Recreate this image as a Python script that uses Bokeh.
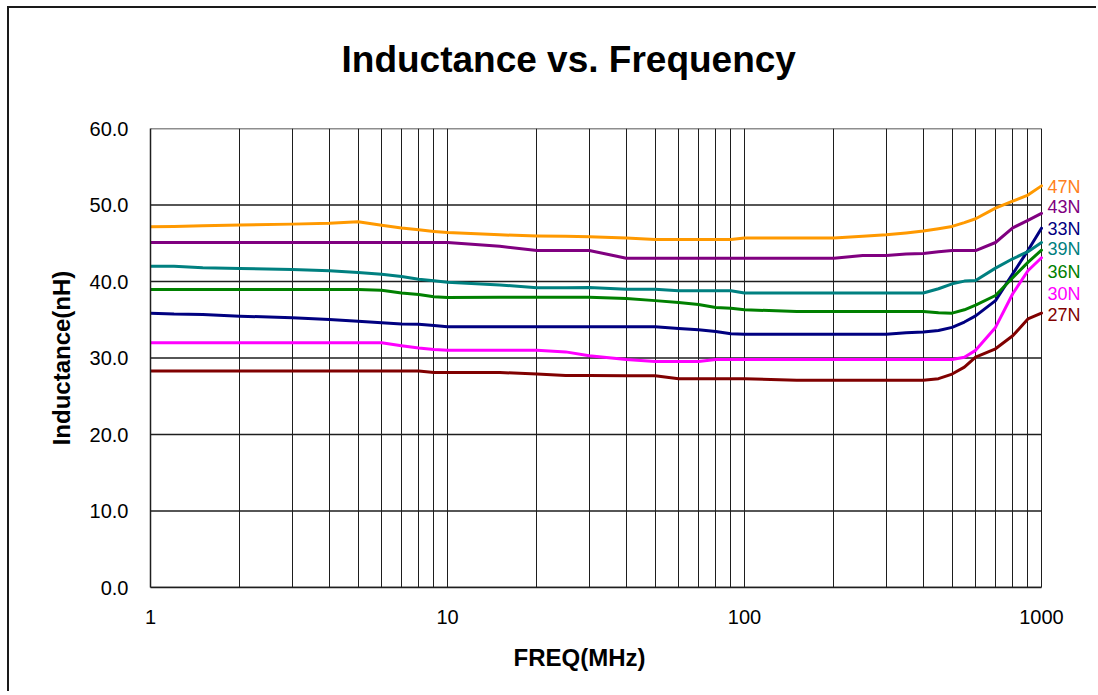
from bokeh.plotting import figure
from bokeh.models import Range1d, FixedTicker, PrintfTickFormatter, Title
from bokeh.core.properties import value
from bokeh.embed import file_html
from bokeh.resources import INLINE

freq = [1, 1.2, 1.5, 2, 3, 4, 5, 6, 7, 8, 9, 10, 15, 20, 25, 30, 40, 50, 60, 70, 80, 90,
        100, 150, 200, 250, 300, 350, 400, 450, 500, 550, 600, 700, 800, 900, 1000]

l_47n = [47.15, 47.2, 47.3, 47.4, 47.5, 47.6, 47.8, 47.36, 47.0, 46.75, 46.55, 46.4, 46.1, 45.95,
         45.9, 45.85, 45.7, 45.5, 45.5, 45.5, 45.5, 45.5, 45.7, 45.7, 45.7, 45.9, 46.1, 46.35,
         46.6, 46.9, 47.2, 47.7, 48.2, 49.6, 50.5, 51.3, 52.5]
l_43n = [45.1, 45.1, 45.1, 45.1, 45.1, 45.1, 45.1, 45.1, 45.1, 45.1, 45.1, 45.1, 44.6, 44.05,
         44.05, 44.05, 43.05, 43.05, 43.05, 43.05, 43.05, 43.05, 43.05, 43.05, 43.05, 43.4, 43.4,
         43.6, 43.65, 43.9, 44.05, 44.05, 44.05, 45.1, 47.0, 48.0, 48.9]
l_39n = [42.0, 42.0, 41.8, 41.7, 41.57, 41.4, 41.18, 40.96, 40.65, 40.3, 40.1, 39.9, 39.55, 39.17,
         39.17, 39.2, 39.0, 39.0, 38.8, 38.8, 38.8, 38.8, 38.5, 38.5, 38.5, 38.5, 38.5, 38.5,
         38.5, 39.05, 39.7, 40.05, 40.13, 41.75, 42.97, 43.9, 45.1]
l_36n = [38.95, 38.95, 38.95, 38.95, 38.95, 38.95, 38.95, 38.85, 38.5, 38.3, 38.0, 37.9, 37.95,
         37.95, 37.95, 37.95, 37.78, 37.5, 37.25, 37.0, 36.6, 36.5, 36.3, 36.08, 36.08, 36.08,
         36.08, 36.08, 36.08, 35.9, 35.86, 36.3, 36.9, 38.17, 40.5, 42.5, 44.1]
l_33n = [35.86, 35.75, 35.7, 35.47, 35.25, 35.03, 34.8, 34.6, 34.45, 34.4, 34.25, 34.1, 34.1,
         34.1, 34.1, 34.1, 34.1, 34.1, 33.86, 33.7, 33.46, 33.16, 33.1, 33.1, 33.1, 33.1, 33.1,
         33.3, 33.4, 33.6, 34.0, 34.7, 35.5, 37.5, 41.0, 44.05, 46.97]
l_30n = [32.0, 32.0, 32.0, 32.0, 32.0, 32.0, 32.0, 32.0, 31.6, 31.3, 31.1, 31.0, 31.0, 31.0,
         30.8, 30.3, 29.8, 29.54, 29.54, 29.54, 29.8, 29.8, 29.8, 29.8, 29.8, 29.8, 29.8, 29.8,
         29.8, 29.8, 29.8, 30.1, 31.0, 34.0, 38.4, 41.4, 43.1]
l_27n = [28.3, 28.3, 28.3, 28.3, 28.3, 28.3, 28.3, 28.3, 28.3, 28.3, 28.1, 28.1, 28.1, 27.9,
         27.7, 27.7, 27.67, 27.67, 27.3, 27.3, 27.3, 27.3, 27.3, 27.1, 27.1, 27.1, 27.1, 27.1,
         27.1, 27.3, 27.9, 28.8, 30.1, 31.2, 32.9, 35.1, 35.86]

series_names = ["47N", "43N", "33N", "39N", "36N", "30N", "27N"]
series_values = [l_47n, l_43n, l_33n, l_39n, l_36n, l_30n, l_27n]
line_colors = ["#FF9900", "#800080", "#000080", "#008080", "#008000", "#FF00FF", "#800000"]
label_colors = ["#FF8020", "#800080", "#000080", "#008080", "#008000", "#FF00FF", "#800000"]
label_y = [52.4, 49.8, 46.9, 44.2, 41.3, 38.4, 35.6]

x_min, x_max = 1, 1000
y_min, y_max = 0, 60
x_major = [1, 10, 100, 1000]
x_minor = [2, 3, 4, 5, 6, 7, 8, 9, 20, 30, 40, 50, 60, 70, 80, 90,
           200, 300, 400, 500, 600, 700, 800, 900]
y_ticks = [0, 10, 20, 30, 40, 50, 60]

FONT = "Liberation Sans"
GRID = "#1e1e1e"

# plotting area (1..1000) is 891 px wide; the frame is extended to the right
# so that the series names beside the curves are inside the drawable region
PLOT_W = 891
FRAME_W = 940
x_end = x_max ** (FRAME_W / PLOT_W)

p = figure(x_axis_type="log", x_range=Range1d(x_min, x_end), y_range=Range1d(y_min, y_max),
           frame_width=FRAME_W, frame_height=459,
           min_border_left=141, min_border_right=6, min_border_top=120, min_border_bottom=104,
           output_backend="svg", toolbar_location=None, title=None)
p.styles = {"margin-left": "7px", "margin-top": "6px",
            "border-left": "2px solid #1a1a1a", "border-top": "2px solid #1a1a1a"}
p.background_fill_color = "white"
p.border_fill_color = "white"
p.outline_line_color = None

# spacer between frame and title
spacer = Title(text=" ", text_font=FONT, text_font_size="1px", standoff=41)
p.add_layout(spacer, "above")

t = Title(text="Inductance vs. Frequency", align="left", offset=191,
          text_font=FONT, text_font_size="37px", text_font_style="bold",
          text_color="black", standoff=10)
p.add_layout(t, "above")

xt = Title(text="FREQ(MHz)", align="left", offset=363,
           text_font=FONT, text_font_size="24px", text_font_style="bold",
           text_color="black", standoff=31)
p.add_layout(xt, "below")

p.xaxis.ticker = FixedTicker(ticks=x_major, minor_ticks=x_minor)
p.yaxis.ticker = FixedTicker(ticks=y_ticks)
p.yaxis.formatter = PrintfTickFormatter(format="%.1f")
p.xaxis.formatter = PrintfTickFormatter(format="%d")
p.xaxis.bounds = (x_min, x_max)

for ax in (p.xaxis, p.yaxis):
    ax.major_tick_out = 0
    ax.major_tick_in = 0
    ax.minor_tick_out = 0
    ax.minor_tick_in = 0
    ax.axis_line_color = GRID
    ax.axis_line_width = 1.5
    ax.major_label_text_font = FONT
    ax.major_label_text_font_size = "20px"
    ax.major_label_text_color = "black"
    ax.axis_label_text_font = FONT
    ax.axis_label_text_font_size = "24px"
    ax.axis_label_text_font_style = "bold"
    ax.axis_label_text_color = "black"

p.yaxis.axis_label = "Inductance(nH)"
p.xaxis.major_label_standoff = 22
p.yaxis.major_label_standoff = 22
p.yaxis.axis_label_standoff = 12

p.xgrid.grid_line_color = GRID
p.xgrid.grid_line_width = 1
p.xgrid.minor_grid_line_color = GRID
p.xgrid.minor_grid_line_width = 1
p.ygrid.grid_line_color = None

# horizontal grid lines limited to the plotting area 1..1000
p.multi_line(xs=[[x_min, x_max] for _ in y_ticks], ys=[[v, v] for v in y_ticks],
             line_color=GRID, line_width=1.5)

for vals, lc in zip(series_values, line_colors):
    p.line(freq, vals, line_color=lc, line_width=3, line_join="round", line_cap="round")

p.text(x=[x_max] * len(series_names), y=label_y, text=series_names, text_color=label_colors,
       x_offset=6, text_baseline="middle", text_align="left",
       text_font=value(FONT), text_font_size="18px")

open("out.html", "w").write(file_html(p, INLINE))
